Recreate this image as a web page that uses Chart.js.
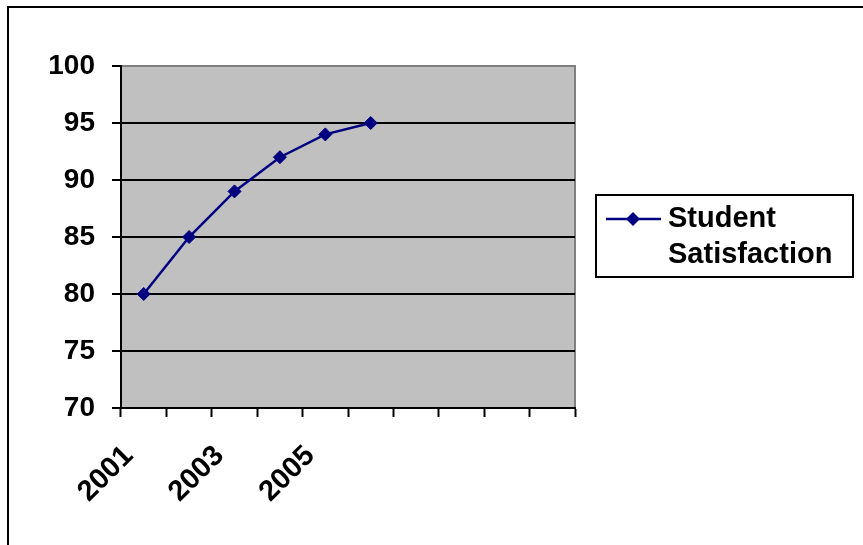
<!DOCTYPE html>
<html>
<head>
<meta charset="utf-8">
<script src="https://cdn.jsdelivr.net/npm/chart.js@4/dist/chart.umd.min.js"></script>
<style>
  html, body { margin: 0; padding: 0; background: #fff; }
  canvas { display: block; }
</style>
</head>
<body>
<canvas id="chart" width="863" height="545"></canvas>
<script>
// Category slots along the x axis (the last ones are empty in the sheet)
const categories = ['2001', '2002', '2003', '2004', '2005', '2006', '', '', '', ''];
// Only every other year is printed under the axis
const shownLabels = ['2001', '2003', '2005'];
// Survey results per year
const satisfaction = [80, 85, 89, 92, 94, 95];
const seriesName = 'Student Satisfaction';
// Value axis
const yTicks = [70, 75, 80, 85, 90, 95, 100];

const FONT = '"Liberation Sans", Arial, sans-serif';
const NAVY = '#000080';

// Grey plot background with a darker top/right frame
const plotBackground = {
  id: 'plotBackground',
  beforeDraw(chart) {
    const { ctx, chartArea: a } = chart;
    ctx.save();
    ctx.fillStyle = '#C0C0C0';
    ctx.fillRect(a.left, a.top, a.right - a.left, a.bottom - a.top);
    ctx.strokeStyle = '#808080';
    ctx.lineWidth = 2;
    ctx.beginPath();
    ctx.moveTo(a.left, a.top);
    ctx.lineTo(a.right, a.top);
    ctx.lineTo(a.right, a.bottom);
    ctx.stroke();
    ctx.restore();
  }
};

// Outer frame of the chart object and a boxed legend on the right
const frameAndLegend = {
  id: 'frameAndLegend',
  afterDraw(chart) {
    const { ctx } = chart;
    ctx.save();
    ctx.strokeStyle = '#000';
    ctx.lineWidth = 2;
    ctx.beginPath();
    ctx.moveTo(8, 545);
    ctx.lineTo(8, 7);
    ctx.lineTo(863, 7);
    ctx.stroke();

    const ds = chart.data.datasets[0];
    const box = { x: 596, y: 195, w: 257, h: 82 };
    ctx.fillStyle = '#fff';
    ctx.fillRect(box.x, box.y, box.w, box.h);
    ctx.strokeRect(box.x, box.y, box.w, box.h);

    const ly = 219;
    ctx.strokeStyle = ds.borderColor;
    ctx.lineWidth = ds.borderWidth;
    ctx.beginPath();
    ctx.moveTo(606, ly);
    ctx.lineTo(661, ly);
    ctx.stroke();
    ctx.fillStyle = ds.pointBackgroundColor;
    const r = ds.pointRadius + 0.5;
    ctx.beginPath();
    ctx.moveTo(633 - r, ly);
    ctx.lineTo(633, ly - r);
    ctx.lineTo(633 + r, ly);
    ctx.lineTo(633, ly + r);
    ctx.closePath();
    ctx.fill();

    ctx.fillStyle = '#000';
    ctx.font = 'bold 29px ' + FONT;
    ctx.textBaseline = 'middle';
    ctx.textAlign = 'left';
    const words = ds.label.split(' ');
    words.forEach((w, i) => ctx.fillText(w, 668, ly + i * 36));
    ctx.restore();
  }
};

new Chart(document.getElementById('chart'), {
  type: 'line',
  data: {
    labels: categories,
    datasets: [{
      label: seriesName,
      data: satisfaction,
      borderColor: NAVY,
      borderWidth: 2.5,
      backgroundColor: NAVY,
      pointBackgroundColor: NAVY,
      pointBorderColor: NAVY,
      pointBorderWidth: 1,
      pointStyle: 'rectRot',
      pointRadius: 6.5,
      tension: 0,
      fill: false
    }]
  },
  options: {
    responsive: false,
    animation: false,
    events: [],
    layout: { padding: { left: 0, top: 66, right: 288, bottom: 0 } },
    plugins: {
      legend: { display: false },
      tooltip: { enabled: false }
    },
    scales: {
      x: {
        type: 'category',
        offset: true,
        afterFit(scale) { scale.height = 137; },
        border: { display: true, color: '#000', width: 2 },
        grid: {
          offset: true,
          drawOnChartArea: false,
          drawTicks: true,
          tickLength: 9,
          tickColor: '#000',
          tickWidth: 2
        },
        ticks: {
          autoSkip: false,
          minRotation: 45,
          maxRotation: 45,
          padding: 22,
          labelOffset: -15,
          color: '#000',
          font: { family: FONT, size: 29, weight: 'bold' },
          callback(value, index) {
            const lab = categories[index];
            return shownLabels.includes(lab) ? lab : '';
          }
        }
      },
      y: {
        min: yTicks[0],
        max: yTicks[yTicks.length - 1],
        afterFit(scale) { scale.width = 121; },
        afterBuildTicks(scale) { scale.ticks = yTicks.map(v => ({ value: v })); },
        border: { display: true, color: '#000', width: 2 },
        grid: {
          color: ctx => (ctx.tick && ctx.tick.value === 100 ? '#808080' : '#000'),
          lineWidth: 2,
          drawTicks: true,
          tickLength: 9,
          tickColor: '#000',
          tickWidth: 2
        },
        ticks: {
          padding: 17,
          color: '#000',
          font: { family: FONT, size: 28, weight: 'bold' }
        }
      }
    }
  },
  plugins: [plotBackground, frameAndLegend]
});
</script>
</body>
</html>
